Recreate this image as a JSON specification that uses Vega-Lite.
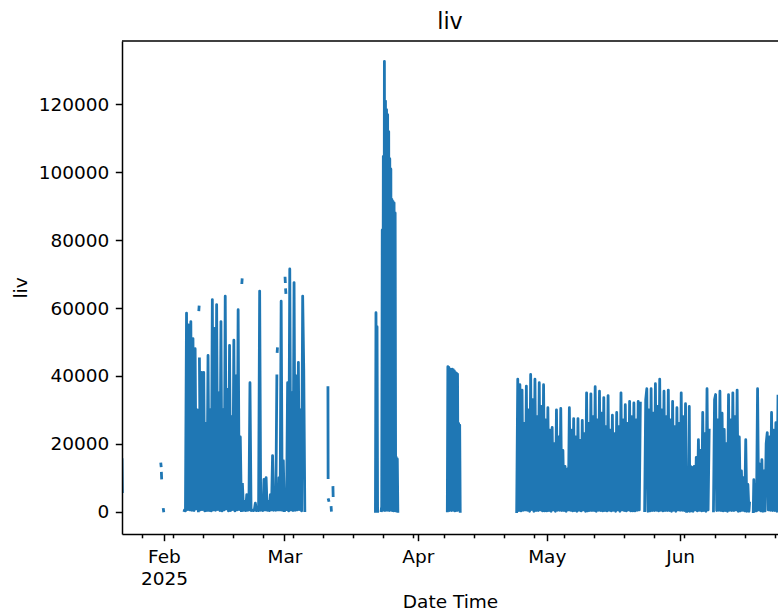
{
  "$schema": "https://vega.github.io/schema/vega-lite/v6.json",
  "width": 656,
  "height": 493,
  "autosize": "none",
  "padding": {"left": 122, "top": 41, "right": 0, "bottom": 79},
  "background": "white",
  "config": {"font": "DejaVu Sans", "view": {"stroke": null}},
  "title": {"text": "liv", "fontSize": 22.2, "fontWeight": "normal", "color": "black", "offset": 7},
  "layer": [
    {
      "data": {"values": [
        {"t":"2025-01-22T06:00","v":15300},{"t":"2025-01-22T08:00","v":5900},{"t":"2025-01-22T09:00","v":null},
        {"t":"2025-01-31T07:00","v":14000},{"t":"2025-01-31T08:00","v":13500},{"t":"2025-01-31T09:00","v":null},
        {"t":"2025-01-31T10:00","v":11300},{"t":"2025-01-31T11:00","v":9900},{"t":"2025-01-31T12:00","v":null},
        {"t":"2025-01-31T21:00","v":600},{"t":"2025-01-31T22:00","v":200},{"t":"2025-01-31T23:00","v":null},

        {"t":"2025-02-05T18:00","v":300},
        {"t":"2025-02-06T00:00","v":200},{"t":"2025-02-06T06:00","v":58500},{"t":"2025-02-06T12:00","v":600},{"t":"2025-02-06T18:00","v":55000},
        {"t":"2025-02-07T00:00","v":500},{"t":"2025-02-07T06:00","v":56000},{"t":"2025-02-07T12:00","v":400},{"t":"2025-02-07T18:00","v":51000},
        {"t":"2025-02-08T00:00","v":300},{"t":"2025-02-08T06:00","v":48000},{"t":"2025-02-08T12:00","v":800},{"t":"2025-02-08T18:00","v":30000},
        {"t":"2025-02-09T00:00","v":200},{"t":"2025-02-09T01:00","v":null},{"t":"2025-02-09T03:00","v":59500},{"t":"2025-02-09T04:00","v":60300},{"t":"2025-02-09T05:00","v":null},
        {"t":"2025-02-09T06:00","v":45000},{"t":"2025-02-09T12:00","v":500},{"t":"2025-02-09T18:00","v":41000},
        {"t":"2025-02-10T00:00","v":600},{"t":"2025-02-10T06:00","v":41000},{"t":"2025-02-10T12:00","v":200},{"t":"2025-02-10T18:00","v":26000},
        {"t":"2025-02-11T00:00","v":300},{"t":"2025-02-11T06:00","v":46000},{"t":"2025-02-11T12:00","v":300},{"t":"2025-02-11T18:00","v":30000},
        {"t":"2025-02-12T00:00","v":200},{"t":"2025-02-12T06:00","v":62500},{"t":"2025-02-12T12:00","v":500},{"t":"2025-02-12T18:00","v":54000},
        {"t":"2025-02-13T00:00","v":400},{"t":"2025-02-13T06:00","v":61000},{"t":"2025-02-13T12:00","v":600},{"t":"2025-02-13T18:00","v":35000},
        {"t":"2025-02-14T00:00","v":300},{"t":"2025-02-14T06:00","v":56000},{"t":"2025-02-14T12:00","v":200},{"t":"2025-02-14T18:00","v":30000},
        {"t":"2025-02-15T00:00","v":500},{"t":"2025-02-15T06:00","v":63500},{"t":"2025-02-15T12:00","v":800},{"t":"2025-02-15T18:00","v":36000},
        {"t":"2025-02-16T00:00","v":200},{"t":"2025-02-16T06:00","v":49000},{"t":"2025-02-16T12:00","v":300},{"t":"2025-02-16T18:00","v":28000},
        {"t":"2025-02-17T00:00","v":600},{"t":"2025-02-17T06:00","v":50500},{"t":"2025-02-17T12:00","v":200},{"t":"2025-02-17T18:00","v":40000},
        {"t":"2025-02-18T00:00","v":500},{"t":"2025-02-18T06:00","v":59500},{"t":"2025-02-18T12:00","v":600},{"t":"2025-02-18T18:00","v":22000},
        {"t":"2025-02-19T00:00","v":300},{"t":"2025-02-19T01:00","v":null},{"t":"2025-02-19T03:00","v":67500},{"t":"2025-02-19T04:00","v":68300},{"t":"2025-02-19T05:00","v":null},
        {"t":"2025-02-19T06:00","v":8000},{"t":"2025-02-19T12:00","v":400},{"t":"2025-02-19T18:00","v":3000},
        {"t":"2025-02-20T00:00","v":300},{"t":"2025-02-20T06:00","v":5000},{"t":"2025-02-20T12:00","v":400},{"t":"2025-02-20T18:00","v":500},
        {"t":"2025-02-21T00:00","v":38000},{"t":"2025-02-21T06:00","v":300},{"t":"2025-02-21T12:00","v":500},{"t":"2025-02-21T18:00","v":300},
        {"t":"2025-02-22T00:00","v":400},{"t":"2025-02-22T06:00","v":2500},{"t":"2025-02-22T12:00","v":300},{"t":"2025-02-22T18:00","v":400},
        {"t":"2025-02-23T00:00","v":300},{"t":"2025-02-23T06:00","v":65000},{"t":"2025-02-23T12:00","v":400},{"t":"2025-02-23T18:00","v":500},
        {"t":"2025-02-24T00:00","v":300},{"t":"2025-02-24T06:00","v":9500},{"t":"2025-02-24T12:00","v":500},{"t":"2025-02-24T18:00","v":10000},
        {"t":"2025-02-25T00:00","v":400},{"t":"2025-02-25T06:00","v":3000},{"t":"2025-02-25T12:00","v":300},{"t":"2025-02-25T18:00","v":5000},
        {"t":"2025-02-26T00:00","v":500},{"t":"2025-02-26T06:00","v":16500},{"t":"2025-02-26T12:00","v":400},{"t":"2025-02-26T18:00","v":6000},
        {"t":"2025-02-27T00:00","v":400},{"t":"2025-02-27T06:00","v":40000},{"t":"2025-02-27T07:00","v":null},{"t":"2025-02-27T08:00","v":47200},{"t":"2025-02-27T09:00","v":48000},{"t":"2025-02-27T10:00","v":null},
        {"t":"2025-02-27T12:00","v":500},{"t":"2025-02-27T18:00","v":10000},
        {"t":"2025-02-28T00:00","v":500},{"t":"2025-02-28T06:00","v":62000},{"t":"2025-02-28T12:00","v":400},{"t":"2025-02-28T18:00","v":15000},
        {"t":"2025-03-01T00:00","v":300},{"t":"2025-03-01T02:00","v":null},{"t":"2025-03-01T04:00","v":68800},{"t":"2025-03-01T05:00","v":67800},{"t":"2025-03-01T06:00","v":null},
        {"t":"2025-03-01T07:00","v":65400},{"t":"2025-03-01T08:00","v":64600},{"t":"2025-03-01T09:00","v":null},
        {"t":"2025-03-01T12:00","v":600},{"t":"2025-03-01T18:00","v":38000},
        {"t":"2025-03-02T00:00","v":200},{"t":"2025-03-02T06:00","v":71500},{"t":"2025-03-02T12:00","v":500},{"t":"2025-03-02T18:00","v":35000},
        {"t":"2025-03-03T00:00","v":300},{"t":"2025-03-03T06:00","v":67500},{"t":"2025-03-03T12:00","v":400},{"t":"2025-03-03T18:00","v":40000},
        {"t":"2025-03-04T00:00","v":500},{"t":"2025-03-04T06:00","v":44000},{"t":"2025-03-04T12:00","v":600},{"t":"2025-03-04T18:00","v":30000},
        {"t":"2025-03-05T00:00","v":200},{"t":"2025-03-05T06:00","v":63500},{"t":"2025-03-05T12:00","v":42000},{"t":"2025-03-05T18:00","v":300},{"t":"2025-03-05T19:00","v":null},

        {"t":"2025-03-11T03:00","v":36500},{"t":"2025-03-11T04:00","v":10000},{"t":"2025-03-11T05:00","v":null},
        {"t":"2025-03-11T06:00","v":3500},{"t":"2025-03-11T07:00","v":3300},{"t":"2025-03-11T08:00","v":null},
        {"t":"2025-03-11T21:00","v":1200},{"t":"2025-03-11T22:00","v":400},{"t":"2025-03-11T23:00","v":null},
        {"t":"2025-03-12T07:00","v":7100},{"t":"2025-03-12T08:00","v":4700},{"t":"2025-03-12T09:00","v":null},

        {"t":"2025-03-22T04:00","v":100},{"t":"2025-03-22T07:00","v":58600},{"t":"2025-03-22T10:00","v":24000},{"t":"2025-03-22T13:00","v":54500},{"t":"2025-03-22T16:00","v":100},{"t":"2025-03-22T18:00","v":null},

        {"t":"2025-03-23T12:00","v":300},{"t":"2025-03-23T15:00","v":1500},{"t":"2025-03-23T18:00","v":83000},{"t":"2025-03-23T21:00","v":400},
        {"t":"2025-03-24T00:00","v":104700},{"t":"2025-03-24T03:00","v":600},{"t":"2025-03-24T06:00","v":132700},{"t":"2025-03-24T09:00","v":300},
        {"t":"2025-03-24T12:00","v":121000},{"t":"2025-03-24T15:00","v":800},{"t":"2025-03-24T18:00","v":118500},{"t":"2025-03-24T21:00","v":400},
        {"t":"2025-03-25T00:00","v":117000},{"t":"2025-03-25T03:00","v":500},{"t":"2025-03-25T06:00","v":112000},{"t":"2025-03-25T09:00","v":300},
        {"t":"2025-03-25T12:00","v":104000},{"t":"2025-03-25T15:00","v":700},{"t":"2025-03-25T18:00","v":101000},{"t":"2025-03-25T21:00","v":400},
        {"t":"2025-03-26T00:00","v":92000},{"t":"2025-03-26T03:00","v":300},{"t":"2025-03-26T06:00","v":91400},{"t":"2025-03-26T09:00","v":200},
        {"t":"2025-03-26T12:00","v":91000},{"t":"2025-03-26T15:00","v":600},{"t":"2025-03-26T18:00","v":88000},{"t":"2025-03-26T21:00","v":200},
        {"t":"2025-03-27T00:00","v":16000},{"t":"2025-03-27T03:00","v":300},{"t":"2025-03-27T06:00","v":15500},{"t":"2025-03-27T09:00","v":100},{"t":"2025-03-27T10:00","v":null},

        {"t":"2025-04-07T21:00","v":200},
        {"t":"2025-04-08T00:00","v":42700},{"t":"2025-04-08T03:00","v":500},{"t":"2025-04-08T06:00","v":42500},{"t":"2025-04-08T09:00","v":300},
        {"t":"2025-04-08T12:00","v":42000},{"t":"2025-04-08T15:00","v":700},{"t":"2025-04-08T18:00","v":41800},{"t":"2025-04-08T21:00","v":300},
        {"t":"2025-04-09T00:00","v":42000},{"t":"2025-04-09T03:00","v":500},{"t":"2025-04-09T06:00","v":41800},{"t":"2025-04-09T09:00","v":400},
        {"t":"2025-04-09T12:00","v":41500},{"t":"2025-04-09T15:00","v":200},{"t":"2025-04-09T18:00","v":41000},{"t":"2025-04-09T21:00","v":600},
        {"t":"2025-04-10T00:00","v":40800},{"t":"2025-04-10T03:00","v":300},{"t":"2025-04-10T06:00","v":40500},{"t":"2025-04-10T09:00","v":800},
        {"t":"2025-04-10T12:00","v":26000},{"t":"2025-04-10T15:00","v":400},{"t":"2025-04-10T18:00","v":25500},{"t":"2025-04-10T21:00","v":100},{"t":"2025-04-10T22:00","v":null},

        {"t":"2025-04-24T00:00","v":0},{"t":"2025-04-24T06:00","v":39000},{"t":"2025-04-24T12:00","v":300},{"t":"2025-04-24T18:00","v":37400},
        {"t":"2025-04-25T00:00","v":200},{"t":"2025-04-25T06:00","v":35800},{"t":"2025-04-25T12:00","v":400},{"t":"2025-04-25T18:00","v":26000},
        {"t":"2025-04-26T00:00","v":500},{"t":"2025-04-26T06:00","v":37000},{"t":"2025-04-26T12:00","v":400},{"t":"2025-04-26T18:00","v":30000},
        {"t":"2025-04-27T00:00","v":100},{"t":"2025-04-27T06:00","v":40400},{"t":"2025-04-27T12:00","v":600},{"t":"2025-04-27T18:00","v":33000},
        {"t":"2025-04-28T00:00","v":100},{"t":"2025-04-28T06:00","v":39000},{"t":"2025-04-28T12:00","v":300},{"t":"2025-04-28T18:00","v":28000},
        {"t":"2025-04-29T00:00","v":300},{"t":"2025-04-29T06:00","v":38000},{"t":"2025-04-29T12:00","v":500},{"t":"2025-04-29T18:00","v":31000},
        {"t":"2025-04-30T00:00","v":200},{"t":"2025-04-30T06:00","v":37400},{"t":"2025-04-30T12:00","v":200},{"t":"2025-04-30T18:00","v":27000},
        {"t":"2025-05-01T00:00","v":200},{"t":"2025-05-01T06:00","v":30600},{"t":"2025-05-01T12:00","v":300},{"t":"2025-05-01T18:00","v":24000},
        {"t":"2025-05-02T00:00","v":100},{"t":"2025-05-02T06:00","v":24800},{"t":"2025-05-02T12:00","v":500},{"t":"2025-05-02T18:00","v":20000},
        {"t":"2025-05-03T00:00","v":100},{"t":"2025-05-03T06:00","v":30000},{"t":"2025-05-03T12:00","v":400},{"t":"2025-05-03T18:00","v":22000},
        {"t":"2025-05-04T00:00","v":400},{"t":"2025-05-04T06:00","v":30400},{"t":"2025-05-04T12:00","v":300},{"t":"2025-05-04T18:00","v":18000},
        {"t":"2025-05-05T00:00","v":300},{"t":"2025-05-05T06:00","v":13300},{"t":"2025-05-05T12:00","v":100},{"t":"2025-05-05T18:00","v":12500},
        {"t":"2025-05-06T00:00","v":500},{"t":"2025-05-06T06:00","v":30600},{"t":"2025-05-06T12:00","v":400},{"t":"2025-05-06T18:00","v":24000},
        {"t":"2025-05-07T00:00","v":200},{"t":"2025-05-07T06:00","v":27400},{"t":"2025-05-07T12:00","v":300},{"t":"2025-05-07T18:00","v":22000},
        {"t":"2025-05-08T00:00","v":100},{"t":"2025-05-08T06:00","v":27400},{"t":"2025-05-08T12:00","v":400},{"t":"2025-05-08T18:00","v":21000},
        {"t":"2025-05-09T00:00","v":200},{"t":"2025-05-09T06:00","v":26900},{"t":"2025-05-09T12:00","v":500},{"t":"2025-05-09T18:00","v":23000},
        {"t":"2025-05-10T00:00","v":100},{"t":"2025-05-10T06:00","v":35000},{"t":"2025-05-10T12:00","v":200},{"t":"2025-05-10T18:00","v":26000},
        {"t":"2025-05-11T00:00","v":300},{"t":"2025-05-11T06:00","v":34700},{"t":"2025-05-11T12:00","v":300},{"t":"2025-05-11T18:00","v":28000},
        {"t":"2025-05-12T00:00","v":300},{"t":"2025-05-12T06:00","v":36800},{"t":"2025-05-12T12:00","v":100},{"t":"2025-05-12T18:00","v":27000},
        {"t":"2025-05-13T00:00","v":400},{"t":"2025-05-13T06:00","v":35500},{"t":"2025-05-13T12:00","v":300},{"t":"2025-05-13T18:00","v":29000},
        {"t":"2025-05-14T00:00","v":200},{"t":"2025-05-14T06:00","v":33600},{"t":"2025-05-14T12:00","v":300},{"t":"2025-05-14T18:00","v":25000},
        {"t":"2025-05-15T00:00","v":200},{"t":"2025-05-15T06:00","v":34200},{"t":"2025-05-15T12:00","v":400},{"t":"2025-05-15T18:00","v":24000},
        {"t":"2025-05-16T00:00","v":200},{"t":"2025-05-16T06:00","v":28400},{"t":"2025-05-16T12:00","v":400},{"t":"2025-05-16T18:00","v":23000},
        {"t":"2025-05-17T00:00","v":100},{"t":"2025-05-17T06:00","v":29200},{"t":"2025-05-17T12:00","v":500},{"t":"2025-05-17T18:00","v":25000},
        {"t":"2025-05-18T00:00","v":100},{"t":"2025-05-18T06:00","v":35000},{"t":"2025-05-18T12:00","v":500},{"t":"2025-05-18T18:00","v":27000},
        {"t":"2025-05-19T00:00","v":300},{"t":"2025-05-19T06:00","v":31500},{"t":"2025-05-19T12:00","v":200},{"t":"2025-05-19T18:00","v":26000},
        {"t":"2025-05-20T00:00","v":500},{"t":"2025-05-20T06:00","v":32500},{"t":"2025-05-20T12:00","v":200},{"t":"2025-05-20T18:00","v":28000},
        {"t":"2025-05-21T00:00","v":200},{"t":"2025-05-21T06:00","v":32000},{"t":"2025-05-21T12:00","v":200},{"t":"2025-05-21T18:00","v":27000},
        {"t":"2025-05-22T00:00","v":400},{"t":"2025-05-22T06:00","v":32500},{"t":"2025-05-22T12:00","v":500},{"t":"2025-05-22T18:00","v":32000},
        {"t":"2025-05-23T06:00","v":null},
        {"t":"2025-05-23T18:00","v":300},
        {"t":"2025-05-24T00:00","v":33000},{"t":"2025-05-24T06:00","v":36200},{"t":"2025-05-24T12:00","v":100},{"t":"2025-05-24T18:00","v":30000},
        {"t":"2025-05-25T00:00","v":200},{"t":"2025-05-25T06:00","v":36200},{"t":"2025-05-25T12:00","v":300},{"t":"2025-05-25T18:00","v":29000},
        {"t":"2025-05-26T00:00","v":300},{"t":"2025-05-26T06:00","v":37700},{"t":"2025-05-26T12:00","v":400},{"t":"2025-05-26T18:00","v":31000},
        {"t":"2025-05-27T00:00","v":200},{"t":"2025-05-27T06:00","v":39000},{"t":"2025-05-27T12:00","v":400},{"t":"2025-05-27T18:00","v":30000},
        {"t":"2025-05-28T00:00","v":200},{"t":"2025-05-28T06:00","v":35500},{"t":"2025-05-28T12:00","v":300},{"t":"2025-05-28T18:00","v":28000},
        {"t":"2025-05-29T00:00","v":300},{"t":"2025-05-29T06:00","v":35800},{"t":"2025-05-29T12:00","v":300},{"t":"2025-05-29T18:00","v":27000},
        {"t":"2025-05-30T00:00","v":100},{"t":"2025-05-30T06:00","v":32500},{"t":"2025-05-30T12:00","v":400},{"t":"2025-05-30T18:00","v":25000},
        {"t":"2025-05-31T00:00","v":100},{"t":"2025-05-31T06:00","v":30600},{"t":"2025-05-31T12:00","v":500},{"t":"2025-05-31T18:00","v":26000},
        {"t":"2025-06-01T00:00","v":400},{"t":"2025-06-01T06:00","v":35000},{"t":"2025-06-01T12:00","v":400},{"t":"2025-06-01T18:00","v":28000},
        {"t":"2025-06-02T00:00","v":300},{"t":"2025-06-02T06:00","v":31800},{"t":"2025-06-02T12:00","v":100},
        {"t":"2025-06-02T18:00","v":null},
        {"t":"2025-06-03T00:00","v":200},{"t":"2025-06-03T03:00","v":31000},{"t":"2025-06-03T06:00","v":100},{"t":"2025-06-03T09:00","v":13400},{"t":"2025-06-03T12:00","v":200},{"t":"2025-06-03T18:00","v":13000},
        {"t":"2025-06-04T00:00","v":100},{"t":"2025-06-04T06:00","v":13300},{"t":"2025-06-04T12:00","v":500},{"t":"2025-06-04T18:00","v":16000},
        {"t":"2025-06-05T00:00","v":200},{"t":"2025-06-05T06:00","v":21200},{"t":"2025-06-05T12:00","v":400},{"t":"2025-06-05T18:00","v":18000},
        {"t":"2025-06-06T00:00","v":200},{"t":"2025-06-06T06:00","v":29200},{"t":"2025-06-06T12:00","v":300},{"t":"2025-06-06T18:00","v":23000},
        {"t":"2025-06-07T00:00","v":100},{"t":"2025-06-07T06:00","v":36200},{"t":"2025-06-07T12:00","v":500},{"t":"2025-06-07T18:00","v":24000},
        {"t":"2025-06-08T00:00","v":null},
        {"t":"2025-06-08T18:00","v":200},
        {"t":"2025-06-09T00:00","v":33000},{"t":"2025-06-09T06:00","v":34500},{"t":"2025-06-09T12:00","v":300},{"t":"2025-06-09T18:00","v":27000},
        {"t":"2025-06-10T00:00","v":400},{"t":"2025-06-10T06:00","v":35500},{"t":"2025-06-10T12:00","v":300},{"t":"2025-06-10T18:00","v":29000},
        {"t":"2025-06-11T00:00","v":200},{"t":"2025-06-11T06:00","v":24200},{"t":"2025-06-11T12:00","v":300},{"t":"2025-06-11T18:00","v":20000},
        {"t":"2025-06-12T00:00","v":100},{"t":"2025-06-12T06:00","v":34500},{"t":"2025-06-12T12:00","v":400},{"t":"2025-06-12T18:00","v":27000},
        {"t":"2025-06-13T00:00","v":300},{"t":"2025-06-13T06:00","v":35000},{"t":"2025-06-13T12:00","v":300},{"t":"2025-06-13T18:00","v":28000},
        {"t":"2025-06-14T00:00","v":500},{"t":"2025-06-14T06:00","v":35800},{"t":"2025-06-14T12:00","v":100},{"t":"2025-06-14T18:00","v":22000},
        {"t":"2025-06-15T00:00","v":200},{"t":"2025-06-15T06:00","v":12000},{"t":"2025-06-15T12:00","v":400},{"t":"2025-06-15T18:00","v":10000},
        {"t":"2025-06-16T00:00","v":200},{"t":"2025-06-16T06:00","v":21200},{"t":"2025-06-16T12:00","v":100},{"t":"2025-06-16T18:00","v":8000},
        {"t":"2025-06-17T00:00","v":100},{"t":"2025-06-17T03:00","v":2500},{"t":"2025-06-17T09:00","v":null},
        {"t":"2025-06-18T00:00","v":0},{"t":"2025-06-18T03:00","v":9400},{"t":"2025-06-18T06:00","v":100},{"t":"2025-06-18T12:00","v":8000},{"t":"2025-06-18T18:00","v":200},
        {"t":"2025-06-19T00:00","v":36200},{"t":"2025-06-19T06:00","v":500},{"t":"2025-06-19T12:00","v":14000},{"t":"2025-06-19T18:00","v":200},
        {"t":"2025-06-20T00:00","v":15300},{"t":"2025-06-20T06:00","v":100},{"t":"2025-06-20T12:00","v":12000},{"t":"2025-06-20T18:00","v":200},
        {"t":"2025-06-21T00:00","v":20000},{"t":"2025-06-21T06:00","v":23300},{"t":"2025-06-21T12:00","v":500},{"t":"2025-06-21T18:00","v":22000},
        {"t":"2025-06-22T00:00","v":400},{"t":"2025-06-22T06:00","v":29200},{"t":"2025-06-22T12:00","v":300},{"t":"2025-06-22T18:00","v":24000},
        {"t":"2025-06-23T00:00","v":300},{"t":"2025-06-23T06:00","v":26200},{"t":"2025-06-23T12:00","v":100},{"t":"2025-06-23T18:00","v":34000}
      ]},
      "mark": {"type": "line", "color": "#1f77b4", "strokeWidth": 2.8, "strokeJoin": "round", "strokeCap": "square", "clip": true, "invalid": "break-paths-filter-domains"},
      "encoding": {
        "x": {
          "field": "t",
          "type": "temporal",
          "scale": {"domain": [{"year": 2025, "month": 1, "date": 22, "hours": 6}, {"year": 2025, "month": 6, "date": 23, "hours": 18}], "nice": false},
          "axis": {
            "title": "Date Time",
            "values": [
              {"year": 2025, "month": 1, "date": 27},
              {"year": 2025, "month": 2, "date": 1}, {"year": 2025, "month": 2, "date": 3}, {"year": 2025, "month": 2, "date": 10}, {"year": 2025, "month": 2, "date": 17}, {"year": 2025, "month": 2, "date": 24},
              {"year": 2025, "month": 3, "date": 1}, {"year": 2025, "month": 3, "date": 3}, {"year": 2025, "month": 3, "date": 10}, {"year": 2025, "month": 3, "date": 17}, {"year": 2025, "month": 3, "date": 24}, {"year": 2025, "month": 3, "date": 31},
              {"year": 2025, "month": 4, "date": 1}, {"year": 2025, "month": 4, "date": 7}, {"year": 2025, "month": 4, "date": 14}, {"year": 2025, "month": 4, "date": 21}, {"year": 2025, "month": 4, "date": 28},
              {"year": 2025, "month": 5, "date": 1}, {"year": 2025, "month": 5, "date": 5}, {"year": 2025, "month": 5, "date": 12}, {"year": 2025, "month": 5, "date": 19}, {"year": 2025, "month": 5, "date": 26},
              {"year": 2025, "month": 6, "date": 1}, {"year": 2025, "month": 6, "date": 2}, {"year": 2025, "month": 6, "date": 9}, {"year": 2025, "month": 6, "date": 16}, {"year": 2025, "month": 6, "date": 23}
            ],
            "labelExpr": "date(datum.value) == 1 ? (month(datum.value) == 1 ? [timeFormat(datum.value, '%b'), timeFormat(datum.value, '%Y')] : timeFormat(datum.value, '%b')) : ''",
            "tickSize": {"condition": {"test": "date(datum.value) == 1", "value": 6.7}, "value": 3.8},
            "tickWidth": 1.5,
            "tickColor": "black",
            "domainColor": "black",
            "domainWidth": 1.5,
            "labelFontSize": 18.5,
            "labelColor": "black",
            "labelPadding": 7,
            "labelLineHeight": 22,
            "labelOverlap": false,
            "labelFlush": false,
            "titleFontSize": 18.5,
            "titleFontWeight": "normal",
            "titleColor": "black",
            "titlePadding": 4,
            "grid": false,
            "zindex": 1
          }
        },
        "y": {
          "field": "v",
          "type": "quantitative",
          "scale": {"domain": [-6605, 138700], "nice": false, "zero": false},
          "axis": {
            "title": "liv",
            "values": [0, 20000, 40000, 60000, 80000, 100000, 120000],
            "format": "d",
            "tickSize": 6.7,
            "tickWidth": 1.5,
            "tickColor": "black",
            "domainColor": "black",
            "domainWidth": 1.5,
            "labelFontSize": 18.5,
            "labelColor": "black",
            "labelPadding": 6.5,
            "titleFontSize": 18.5,
            "titleFontWeight": "normal",
            "titleColor": "black",
            "titlePadding": 8,
            "grid": false,
            "zindex": 1
          }
        }
      }
    },
    {
      "data": {"values": [{}]},
      "mark": {"type": "rule", "color": "black", "strokeWidth": 1.5},
      "encoding": {"y": {"datum": 138700, "type": "quantitative"}}
    }
  ]
}
